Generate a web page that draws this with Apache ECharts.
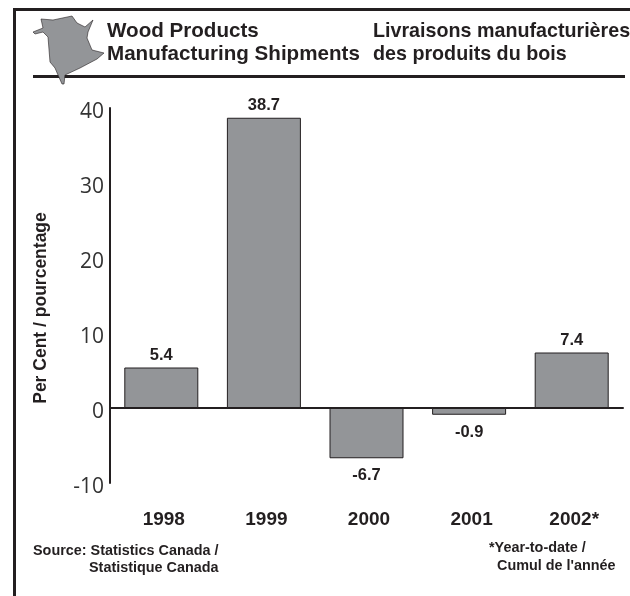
<!DOCTYPE html>
<html>
<head>
<meta charset="utf-8">
<style>html,body{margin:0;padding:0;background:#fff;}#chart{width:630px;height:596px;}</style>
<script src="https://cdn.jsdelivr.net/npm/echarts@6/dist/echarts.min.js"></script>
</head>
<body>
<div id="chart"></div>
<script>
var years = ['1998', '1999', '2000', '2001', '2002*'];
var shipments = [5.4, 38.7, -6.7, -0.9, 7.4];

var ink = '#231f20';
var font = '"Liberation Sans", Arial, sans-serif';

function note(x, y, text, size, leading) {
	return {type: 'text', x: x, y: y, style: {text: text, font: 'bold ' + size + 'px ' + font, fill: ink, lineHeight: leading}};
}

var chart = echarts.init(document.getElementById('chart'));
chart.setOption({
	animation: false,
	backgroundColor: '#fff',
	grid: {left: 110, right: 7, top: 108, bottom: 113},
	xAxis: {
		type: 'category',
		data: years,
		axisLine: {onZero: true, lineStyle: {color: ink, width: 2}},
		axisTick: {show: false},
		axisLabel: {color: ink, fontFamily: font, fontWeight: 'bold', fontSize: 19, margin: 27, interval: 0, padding: [0, 0, 0, 5]}
	},
	yAxis: {
		type: 'value',
		min: -10,
		max: 40,
		interval: 10,
		splitLine: {show: false},
		axisTick: {show: false},
		axisLine: {show: true, onZero: false, lineStyle: {color: ink, width: 2}},
		axisLabel: {color: '#333', fontFamily: '"Open Sans", sans-serif', fontSize: 21, margin: 6, verticalAlign: 'top', lineHeight: 8}
	},
	series: [{
		type: 'bar',
		data: shipments.map(function(v){
			return {value: v, label: {distance: v < 0 ? 9 : 4}};
		}),
		barWidth: 74,
		itemStyle: {color: '#939598', borderColor: ink, borderWidth: 1},
		label: {show: true, position: 'outside', color: ink, fontFamily: font, fontWeight: 'bold', fontSize: 16.5}
	}],
	graphic: [
		{type: 'rect', shape: {x: 13, y: 8, width: 3, height: 588}, style: {fill: ink}},
		{type: 'rect', shape: {x: 13, y: 8, width: 617, height: 3}, style: {fill: ink}},
		{type: 'rect', shape: {x: 33, y: 75, width: 592, height: 3}, style: {fill: ink}},
		{type: 'polygon', shape: {points: [
			[33,32],[43,28],[41,19],[53,20],[72,16],[77,23],[85,27],[93,20],[88,32],[87,38],[92,50],[104,53],[97,59],[80,68],[65,75],[64,84],[62,84],[58,75],[55,68],[50,62],[48,37],[43,32],[35,34]
		]}, style: {fill: '#939598', stroke: ink, lineWidth: 0.6}},
		note(107, 20, 'Wood Products\nManufacturing Shipments', 20.6, 23),
		note(373, 20, 'Livraisons manufacturières\ndes produits du bois', 19.7, 23),
		note(33, 543, 'Source: Statistics Canada /', 14.4, 17),
		note(89, 560, 'Statistique Canada', 14.4, 17),
		note(489, 540, '*Year-to-date /', 14.4, 17),
		note(497, 558, "Cumul de l'année", 14.4, 17),
		{type: 'text', x: 41, y: 308, rotation: Math.PI / 2, style: {
			text: 'Per Cent / pourcentage', font: 'bold 17.5px ' + font, fill: ink, align: 'center', verticalAlign: 'middle'
		}}
	]
});
</script>
</body>
</html>
